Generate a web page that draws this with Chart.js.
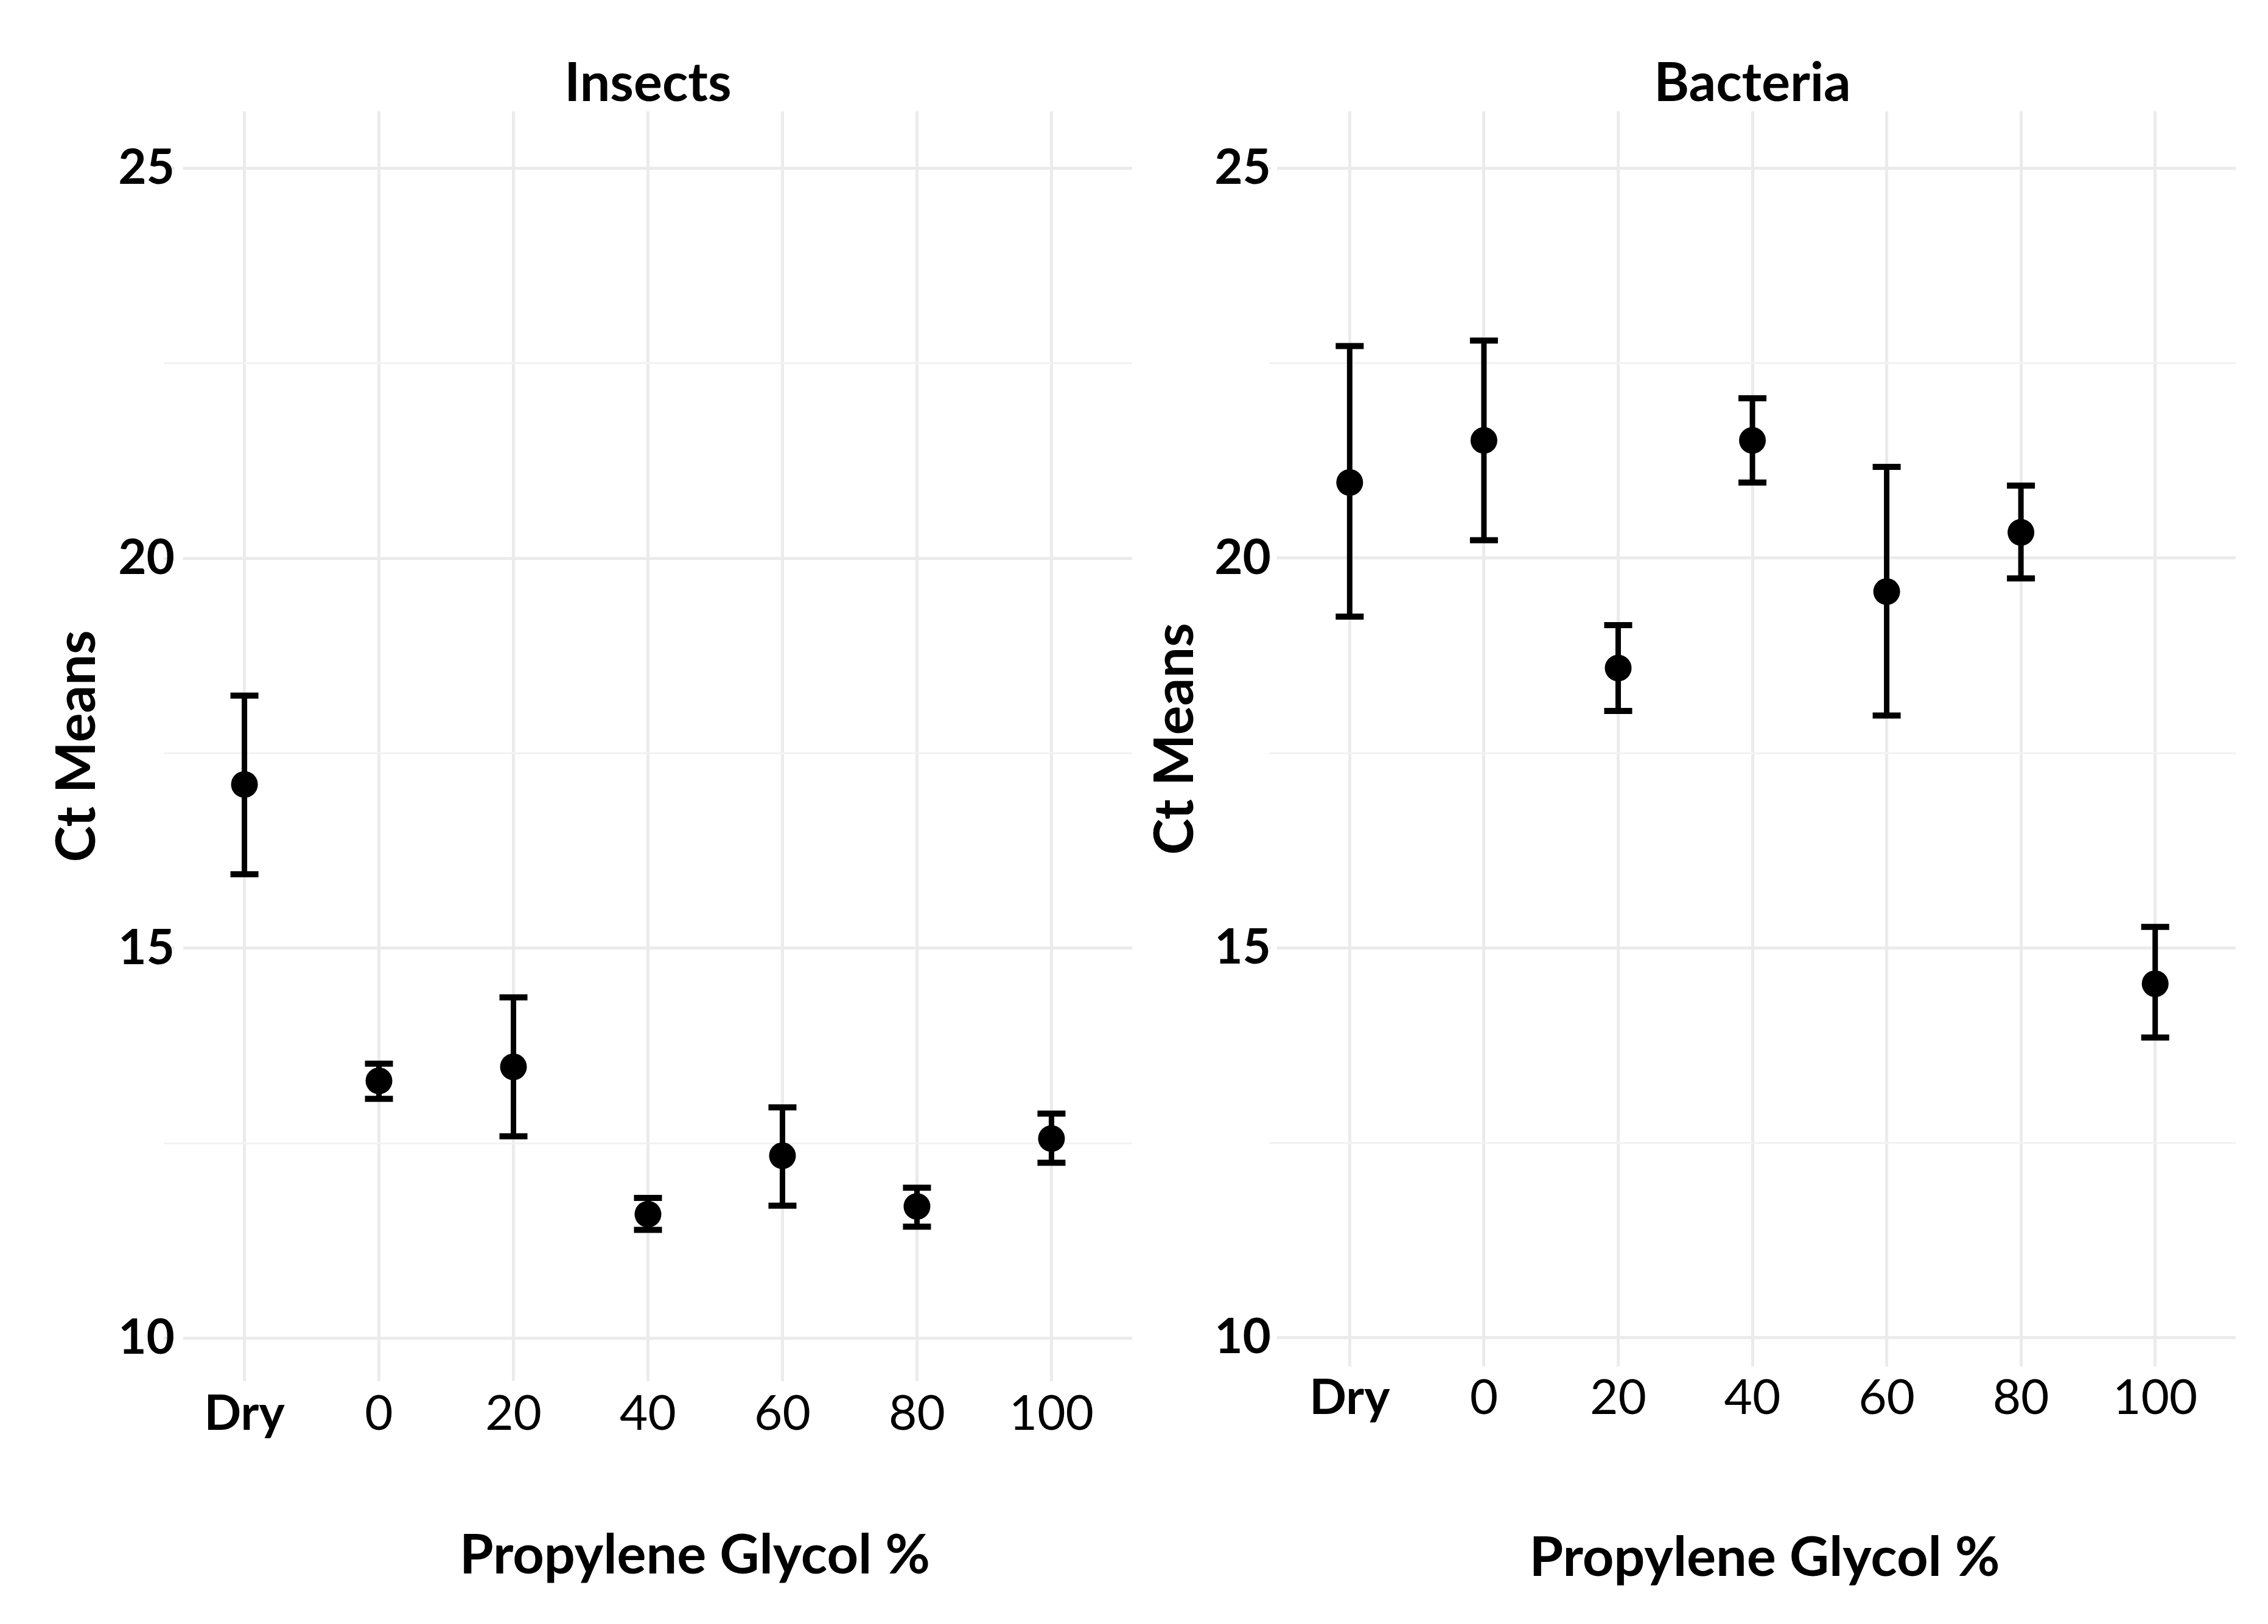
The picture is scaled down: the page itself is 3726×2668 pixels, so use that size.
<!DOCTYPE html>
<html>
<head>
<meta charset="utf-8">
<script src="https://cdn.jsdelivr.net/npm/chart.js@4.4.1/dist/chart.umd.min.js"></script>
<style>
  html, body { margin: 0; padding: 0; background: #ffffff; }
  body { width: 3726px; height: 2668px; position: relative; overflow: hidden; }
  canvas { position: absolute; top: 0; }
  #c1 { left: 0; }
  #c2 { left: 1863px; }
</style>
</head>
<body>
<canvas id="c2" width="1863" height="2668"></canvas>
<canvas id="c1" width="1903" height="2668"></canvas>
<script>
// ---- data ----
const categories = ['Dry', '0', '20', '40', '60', '80', '100'];

const insectsMean = [17.10, 13.30, 13.48, 11.59, 12.34, 11.69, 12.56];
const insectsLow  = [15.95, 13.07, 12.59, 11.39, 11.70, 11.43, 12.25];
const insectsHigh = [18.24, 13.52, 14.37, 11.80, 12.96, 11.93, 12.88];

const bacteriaMean = [20.97, 21.51, 18.59, 21.51, 19.57, 20.33, 14.54];
const bacteriaLow  = [19.25, 20.23, 18.04, 20.97, 17.98, 19.74, 13.85];
const bacteriaHigh = [22.72, 22.79, 19.14, 22.05, 21.17, 20.93, 15.27];

const yTickValues = [10, 12.5, 15, 17.5, 20, 22.5, 25];
const yTickLabels = ['10', '', '15', '', '20', '', '25'];

const panelTitles = ['Insects', 'Bacteria'];
const xAxisTitle = 'Propylene Glycol %';
const yAxisTitle = 'Ct Means';

// ---- helpers ----
Chart.defaults.font.family = 'Lato';
Chart.defaults.color = '#000000';

function stemData(low, high) {
  const out = [];
  low.forEach((lo, i) => {
    out.push({ x: i + 1, y: lo });
    out.push({ x: i + 1, y: high[i] });
    out.push({ x: i + 1, y: null });
  });
  return out;
}
function capData(low, high) {
  const out = [];
  low.forEach((lo, i) => {
    out.push({ x: i + 1, y: lo });
    out.push({ x: i + 1, y: high[i] });
  });
  return out;
}
function meanData(mean) {
  return mean.map((m, i) => ({ x: i + 1, y: m }));
}

// x-axis title, centred with a small offset like the reference
const xTitlePlugin = {
  id: 'xTitlePlugin',
  afterDraw(chart, args, opts) {
    const ca = chart.chartArea;
    const ctx = chart.ctx;
    ctx.save();
    ctx.font = 'bold 90px Lato';
    ctx.fillStyle = '#000000';
    ctx.textAlign = 'center';
    ctx.textBaseline = 'middle';
    ctx.fillText(opts.text, (ca.left + ca.right) / 2 + opts.dx, opts.y);
    ctx.restore();
  }
};

// y tick labels positioned from the y scale, with a white gap before the grid line
const yLabelPlugin = {
  id: 'yLabelPlugin',
  afterDraw(chart, args, opts) {
    const scale = chart.scales.y;
    const ctx = chart.ctx;
    ctx.save();
    ctx.font = 'bold 80px Lato';
    ctx.textAlign = 'right';
    ctx.textBaseline = 'middle';
    yTickValues.forEach((v, i) => {
      const label = yTickLabels[i];
      if (!label) return;
      const py = scale.getPixelForValue(v);
      ctx.fillStyle = '#ffffff';
      ctx.fillRect(opts.right, py - 8, opts.gap, 16);
      ctx.fillStyle = '#000000';
      ctx.fillText(label, opts.right, py);
    });
    ctx.restore();
  }
};

function makeChart(canvasId, title, mean, low, high, cfg) {
  const gridColor = (ctx) => (ctx.tick && ctx.tick.value % 5 === 0) ? '#ebebeb' : '#f2f2f2';
  const gridWidth = (ctx) => (ctx.tick && ctx.tick.value % 5 === 0) ? 5 : 3;
  return new Chart(document.getElementById(canvasId), {
    type: 'scatter',
    data: {
      datasets: [
        {
          type: 'line',
          data: stemData(low, high),
          borderColor: '#000000',
          borderWidth: 9,
          pointRadius: 0,
          spanGaps: false,
          fill: false,
          order: 3
        },
        {
          type: 'scatter',
          data: capData(low, high),
          pointStyle: 'line',
          pointRadius: 23,
          pointBorderWidth: 10,
          borderWidth: 10,
          pointBorderColor: '#000000',
          borderColor: '#000000',
          order: 2
        },
        {
          type: 'scatter',
          data: meanData(mean),
          pointRadius: 22,
          pointBackgroundColor: '#000000',
          backgroundColor: '#000000',
          pointBorderWidth: 0,
          borderWidth: 0,
          order: 1
        }
      ]
    },
    options: {
      responsive: false,
      animation: false,
      devicePixelRatio: 1,
      events: [],
      layout: { padding: { left: 0, right: cfg.padRight, top: 0, bottom: 0 } },
      plugins: {
        legend: { display: false },
        tooltip: { enabled: false },
        title: {
          display: true,
          fullSize: false,
          text: title,
          color: '#000000',
          font: { family: 'Lato', size: 88, weight: 'bold', lineHeight: 1.0 },
          padding: { top: 94, bottom: 1 }
        },
        xTitlePlugin: { text: xAxisTitle, dx: cfg.xTitleDx, y: cfg.xTitleY },
        yLabelPlugin: { right: cfg.yLabelRight, gap: cfg.yLabelGap }
      },
      scales: {
        x: {
          type: 'linear',
          min: 0.4,
          max: 7.6,
          offset: false,
          border: { display: false },
          grid: { color: '#ebebeb', lineWidth: 5, drawTicks: false },
          afterBuildTicks: (scale) => {
            scale.ticks = categories.map((c, i) => ({ value: i + 1 }));
          },
          afterFit: (scale) => { scale.height = cfg.xAxisHeight; },
          ticks: {
            autoSkip: false,
            maxRotation: 0,
            minRotation: 0,
            padding: cfg.xTickPad,
            color: '#000000',
            font: (ctx) => ({ family: 'Lato', size: 80, weight: ctx.index === 0 ? 'bold' : 'normal' }),
            callback: (v) => categories[Math.round(v) - 1]
          }
        },
        y: {
          type: 'linear',
          min: cfg.yMin,
          max: 25.73,
          border: { display: false },
          grid: { color: gridColor, lineWidth: gridWidth, drawTicks: false },
          afterBuildTicks: (scale) => {
            scale.ticks = yTickValues.map(v => ({ value: v }));
          },
          afterFit: (scale) => { scale.width = cfg.yAxisWidth; },
          title: {
            display: true,
            text: yAxisTitle,
            color: '#000000',
            font: { family: 'Lato', size: 90, weight: 'bold', lineHeight: 1.2 },
            padding: { top: cfg.yTitlePad, bottom: 0 }
          },
          ticks: { display: false }
        }
      }
    },
    plugins: [xTitlePlugin, yLabelPlugin]
  });
}

makeChart('c1', panelTitles[0], insectsMean, insectsLow, insectsHigh, {
  padRight: 43, yAxisWidth: 269, xAxisHeight: 399, yMin: 9.45,
  xTickPad: 6, yTitlePad: 73, xTitleDx: 77, xTitleY: 2556,
  yLabelRight: 287, yLabelGap: 14
});
makeChart('c2', panelTitles[1], bacteriaMean, bacteriaLow, bacteriaHigh, {
  padRight: 53, yAxisWidth: 222, xAxisHeight: 423, yMin: 9.63,
  xTickPad: 4, yTitlePad: 14, xTitleDx: 20, xTitleY: 2560,
  yLabelRight: 225, yLabelGap: 10
});
</script>
</body>
</html>
